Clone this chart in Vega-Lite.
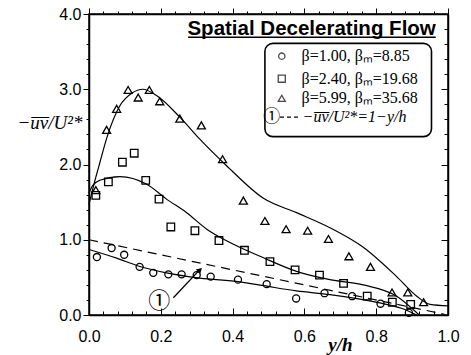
{
  "$schema": "https://vega.github.io/schema/vega-lite/v6.json",
  "width": 359,
  "height": 301,
  "autosize": {"type": "none"},
  "padding": {"left": 89, "top": 14, "right": 23, "bottom": 40},
  "background": "white",
  "config": {
    "view": {"stroke": "black", "strokeWidth": 1.5},
    "axis": {"grid": false, "domainColor": "black", "domainWidth": 1.5, "tickColor": "black", "tickWidth": 1, "labelColor": "black", "titleColor": "black", "labelFlush": false}
  },
  "datasets": {
    "points": [
      {"x": 0.022, "y": 0.77, "s": "b1"}, {"x": 0.063, "y": 0.89, "s": "b1"}, {"x": 0.098, "y": 0.80, "s": "b1"},
      {"x": 0.141, "y": 0.64, "s": "b1"}, {"x": 0.179, "y": 0.56, "s": "b1"}, {"x": 0.221, "y": 0.54, "s": "b1"},
      {"x": 0.258, "y": 0.54, "s": "b1"}, {"x": 0.300, "y": 0.53, "s": "b1"}, {"x": 0.339, "y": 0.51, "s": "b1"},
      {"x": 0.415, "y": 0.47, "s": "b1"}, {"x": 0.495, "y": 0.41, "s": "b1"}, {"x": 0.577, "y": 0.22, "s": "b1"},
      {"x": 0.656, "y": 0.29, "s": "b1"}, {"x": 0.733, "y": 0.25, "s": "b1"}, {"x": 0.812, "y": 0.15, "s": "b1"},
      {"x": 0.891, "y": 0.03, "s": "b1"},
      {"x": 0.019, "y": 1.59, "s": "b2"}, {"x": 0.054, "y": 1.77, "s": "b2"}, {"x": 0.093, "y": 2.03, "s": "b2"},
      {"x": 0.126, "y": 2.15, "s": "b2"}, {"x": 0.158, "y": 1.79, "s": "b2"}, {"x": 0.195, "y": 1.54, "s": "b2"},
      {"x": 0.228, "y": 1.17, "s": "b2"}, {"x": 0.295, "y": 1.12, "s": "b2"}, {"x": 0.362, "y": 0.99, "s": "b2"},
      {"x": 0.433, "y": 0.86, "s": "b2"}, {"x": 0.504, "y": 0.71, "s": "b2"}, {"x": 0.574, "y": 0.60, "s": "b2"},
      {"x": 0.642, "y": 0.53, "s": "b2"}, {"x": 0.709, "y": 0.42, "s": "b2"}, {"x": 0.775, "y": 0.25, "s": "b2"},
      {"x": 0.845, "y": 0.17, "s": "b2"}, {"x": 0.896, "y": 0.14, "s": "b2"},
      {"x": 0.019, "y": 1.66, "s": "b3"}, {"x": 0.049, "y": 2.46, "s": "b3"}, {"x": 0.077, "y": 2.74, "s": "b3"},
      {"x": 0.109, "y": 2.99, "s": "b3"}, {"x": 0.137, "y": 2.89, "s": "b3"}, {"x": 0.168, "y": 2.99, "s": "b3"},
      {"x": 0.197, "y": 2.84, "s": "b3"}, {"x": 0.253, "y": 2.61, "s": "b3"}, {"x": 0.313, "y": 2.52, "s": "b3"},
      {"x": 0.372, "y": 2.07, "s": "b3"}, {"x": 0.430, "y": 1.52, "s": "b3"}, {"x": 0.490, "y": 1.25, "s": "b3"},
      {"x": 0.549, "y": 1.14, "s": "b3"}, {"x": 0.609, "y": 1.12, "s": "b3"}, {"x": 0.667, "y": 1.01, "s": "b3"},
      {"x": 0.724, "y": 0.78, "s": "b3"}, {"x": 0.784, "y": 0.64, "s": "b3"}, {"x": 0.844, "y": 0.30, "s": "b3"},
      {"x": 0.888, "y": 0.30, "s": "b3"}, {"x": 0.932, "y": 0.17, "s": "b3"}
    ],
    "curves": [
      {"x": 0.0, "y": 0.87, "s": "b1"}, {"x": 0.077, "y": 0.755, "s": "b1"}, {"x": 0.142, "y": 0.645, "s": "b1"},
      {"x": 0.216, "y": 0.56, "s": "b1"}, {"x": 0.309, "y": 0.49, "s": "b1"}, {"x": 0.42, "y": 0.44, "s": "b1"},
      {"x": 0.486, "y": 0.39, "s": "b1"}, {"x": 0.578, "y": 0.32, "s": "b1"}, {"x": 0.671, "y": 0.27, "s": "b1"},
      {"x": 0.81, "y": 0.16, "s": "b1"}, {"x": 0.87, "y": 0.09, "s": "b1"}, {"x": 0.913, "y": 0.0, "s": "b1"},
      {"x": 0.0, "y": 1.62, "s": "b2"}, {"x": 0.01, "y": 1.72, "s": "b2"}, {"x": 0.03, "y": 1.79, "s": "b2"},
      {"x": 0.086, "y": 1.84, "s": "b2"}, {"x": 0.16, "y": 1.74, "s": "b2"}, {"x": 0.216, "y": 1.54, "s": "b2"},
      {"x": 0.272, "y": 1.36, "s": "b2"}, {"x": 0.328, "y": 1.14, "s": "b2"}, {"x": 0.39, "y": 0.97, "s": "b2"},
      {"x": 0.486, "y": 0.76, "s": "b2"}, {"x": 0.578, "y": 0.58, "s": "b2"}, {"x": 0.671, "y": 0.47, "s": "b2"},
      {"x": 0.764, "y": 0.40, "s": "b2"}, {"x": 0.857, "y": 0.25, "s": "b2"}, {"x": 0.92, "y": 0.0, "s": "b2"},
      {"x": 0.0, "y": 1.47, "s": "b3"}, {"x": 0.015, "y": 1.76, "s": "b3"}, {"x": 0.03, "y": 2.02, "s": "b3"},
      {"x": 0.05, "y": 2.36, "s": "b3"}, {"x": 0.086, "y": 2.78, "s": "b3"}, {"x": 0.12, "y": 2.95, "s": "b3"},
      {"x": 0.15, "y": 3.0, "s": "b3"}, {"x": 0.19, "y": 2.91, "s": "b3"}, {"x": 0.253, "y": 2.63, "s": "b3"},
      {"x": 0.31, "y": 2.33, "s": "b3"}, {"x": 0.384, "y": 1.98, "s": "b3"}, {"x": 0.486, "y": 1.55, "s": "b3"},
      {"x": 0.578, "y": 1.36, "s": "b3"}, {"x": 0.671, "y": 1.16, "s": "b3"}, {"x": 0.764, "y": 0.90, "s": "b3"},
      {"x": 0.857, "y": 0.51, "s": "b3"}, {"x": 0.913, "y": 0.25, "s": "b3"}, {"x": 0.95, "y": 0.14, "s": "b3"},
      {"x": 1.0, "y": 0.12, "s": "b3"}
    ],
    "ref": [{"x": 0.0, "y": 1.0}, {"x": 0.99, "y": 0.01}],
    "one": [{}]
  },
  "resolve": {"axis": {"x": "independent", "y": "independent"}},
  "layer": [
    {
      "data": {"name": "curves"},
      "mark": {"type": "line", "color": "black", "strokeWidth": 1.2, "interpolate": "monotone"},
      "encoding": {
        "x": {"field": "x", "type": "quantitative", "scale": {"domain": [0, 1], "nice": false},
          "axis": {"orient": "bottom", "labelOverlap": false,
            "values": [0,0.04,0.08,0.12,0.16,0.2,0.24,0.28,0.32,0.36,0.4,0.44,0.48,0.52,0.56,0.6,0.64,0.68,0.72,0.76,0.8,0.84,0.88,0.92,0.96,1],
            "labelExpr": "abs(datum.value*5 - round(datum.value*5)) < 0.001 ? format(datum.value, '.1f') : ''",
            "tickSize": {"condition": {"test": "abs(datum.value*5 - round(datum.value*5)) < 0.001", "value": -7}, "value": -4},
            "labelFont": "Liberation Sans", "labelFontSize": 16, "labelPadding": 20,
            "title": "y/h", "titleFont": "Liberation Serif", "titleFontStyle": "italic", "titleFontWeight": "bold", "titleFontSize": 19,
            "titleX": 251, "titleY": 35, "titleAlign": "center", "titleBaseline": "alphabetic"}},
        "y": {"field": "y", "type": "quantitative", "scale": {"domain": [0, 4], "nice": false},
          "axis": {"orient": "left", "labelOverlap": false,
            "values": [0,0.2,0.4,0.6,0.8,1,1.2,1.4,1.6,1.8,2,2.2,2.4,2.6,2.8,3,3.2,3.4,3.6,3.8,4],
            "labelExpr": "abs(datum.value - round(datum.value)) < 0.001 ? format(datum.value, '.1f') : ''",
            "tickSize": {"condition": {"test": "abs(datum.value - round(datum.value)) < 0.001", "value": 6}, "value": 3},
            "labelFont": "Liberation Sans", "labelFontSize": 16, "labelPadding": 2,
            "title": "−u̅v̅/U²*", "titleFont": "Liberation Serif", "titleFontStyle": "italic", "titleFontWeight": "normal", "titleFontSize": 19,
            "titleAngle": 0, "titleX": -7, "titleY": 108, "titleAlign": "right", "titleBaseline": "middle"}},
        "detail": {"field": "s"}
      }
    },
    {
      "data": {"name": "ref"},
      "mark": {"type": "line", "color": "black", "strokeWidth": 1.2, "strokeDash": [9, 6]},
      "encoding": {
        "x": {"field": "x", "type": "quantitative",
          "axis": {"orient": "top", "title": null, "labels": false,
            "values": [0,0.04,0.08,0.12,0.16,0.2,0.24,0.28,0.32,0.36,0.4,0.44,0.48,0.52,0.56,0.6,0.64,0.68,0.72,0.76,0.8,0.84,0.88,0.92,0.96,1],
            "tickSize": {"condition": {"test": "abs(datum.value*5 - round(datum.value*5)) < 0.001", "value": 6}, "value": 3}}},
        "y": {"field": "y", "type": "quantitative",
          "axis": {"orient": "right", "title": null, "labels": false,
            "values": [0,0.2,0.4,0.6,0.8,1,1.2,1.4,1.6,1.8,2,2.2,2.4,2.6,2.8,3,3.2,3.4,3.6,3.8,4],
            "tickSize": {"condition": {"test": "abs(datum.value - round(datum.value)) < 0.001", "value": -7}, "value": -4}}}
      }
    },
    {
      "data": {"name": "points"},
      "mark": {"type": "point", "filled": false, "color": "black", "strokeWidth": 1.3, "opacity": 1},
      "encoding": {
        "x": {"field": "x", "type": "quantitative", "axis": null},
        "y": {"field": "y", "type": "quantitative", "axis": null},
        "shape": {"field": "s", "type": "nominal", "scale": {"domain": ["b1", "b2", "b3"], "range": ["circle", "square", "triangle-up"]}, "legend": null},
        "size": {"field": "s", "type": "nominal", "scale": {"domain": ["b1", "b2", "b3"], "range": [50, 64, 80]}, "legend": null}
      }
    },
    {
      "data": {"name": "one"},
      "mark": {"type": "text", "text": "Spatial Decelerating Flow", "font": "Liberation Sans", "fontWeight": "bold", "fontSize": 20.5, "align": "right", "baseline": "alphabetic", "color": "black"},
      "encoding": {"x": {"datum": 0.966, "type": "quantitative", "axis": null}, "y": {"datum": 3.725, "type": "quantitative", "axis": null}}
    },
    {
      "data": {"name": "one"},
      "mark": {"type": "rule", "color": "black", "strokeWidth": 1.5},
      "encoding": {"x": {"datum": 0.276, "type": "quantitative", "axis": null}, "x2": {"datum": 0.966}, "y": {"datum": 3.69, "type": "quantitative", "axis": null}}
    },
    {
      "data": {"name": "one"},
      "mark": {"type": "rect", "fill": "white", "stroke": "black", "strokeWidth": 1.6, "cornerRadius": 8},
      "encoding": {"x": {"datum": 0.49, "type": "quantitative", "axis": null}, "x2": {"datum": 0.954}, "y": {"datum": 3.61, "type": "quantitative", "axis": null}, "y2": {"datum": 2.37}}
    },
    {
      "data": {"name": "one"},
      "mark": {"type": "point", "shape": "circle", "filled": false, "color": "black", "strokeWidth": 1.3, "size": 40},
      "encoding": {"x": {"datum": 0.537, "type": "quantitative", "axis": null}, "y": {"datum": 3.44, "type": "quantitative", "axis": null}}
    },
    {
      "data": {"name": "one"},
      "mark": {"type": "point", "shape": "square", "filled": false, "color": "black", "strokeWidth": 1.3, "size": 50},
      "encoding": {"x": {"datum": 0.537, "type": "quantitative", "axis": null}, "y": {"datum": 3.14, "type": "quantitative", "axis": null}}
    },
    {
      "data": {"name": "one"},
      "mark": {"type": "point", "shape": "triangle-up", "filled": false, "color": "black", "strokeWidth": 1.3, "size": 50},
      "encoding": {"x": {"datum": 0.537, "type": "quantitative", "axis": null}, "y": {"datum": 2.88, "type": "quantitative", "axis": null}}
    },
    {
      "data": {"name": "one"},
      "mark": {"type": "text", "text": "β=1.00, βₘ=8.85", "font": "Liberation Serif", "fontSize": 16, "align": "left", "baseline": "middle", "color": "black"},
      "encoding": {"x": {"datum": 0.592, "type": "quantitative", "axis": null}, "y": {"datum": 3.44, "type": "quantitative", "axis": null}}
    },
    {
      "data": {"name": "one"},
      "mark": {"type": "text", "text": "β=2.40, βₘ=19.68", "font": "Liberation Serif", "fontSize": 16, "align": "left", "baseline": "middle", "color": "black"},
      "encoding": {"x": {"datum": 0.592, "type": "quantitative", "axis": null}, "y": {"datum": 3.14, "type": "quantitative", "axis": null}}
    },
    {
      "data": {"name": "one"},
      "mark": {"type": "text", "text": "β=5.99, βₘ=35.68", "font": "Liberation Serif", "fontSize": 16, "align": "left", "baseline": "middle", "color": "black"},
      "encoding": {"x": {"datum": 0.592, "type": "quantitative", "axis": null}, "y": {"datum": 2.88, "type": "quantitative", "axis": null}}
    },
    {
      "data": {"name": "one"},
      "mark": {"type": "text", "text": "①", "font": "Noto Sans CJK JP", "fontSize": 17, "align": "center", "baseline": "middle", "color": "black"},
      "encoding": {"x": {"datum": 0.509, "type": "quantitative", "axis": null}, "y": {"datum": 2.63, "type": "quantitative", "axis": null}}
    },
    {
      "data": {"name": "one"},
      "mark": {"type": "rule", "color": "black", "strokeWidth": 1.2, "strokeDash": [4, 3]},
      "encoding": {"x": {"datum": 0.532, "type": "quantitative", "axis": null}, "x2": {"datum": 0.582}, "y": {"datum": 2.63, "type": "quantitative", "axis": null}}
    },
    {
      "data": {"name": "one"},
      "mark": {"type": "text", "text": "−u̅v̅/U²*=1−y/h", "font": "Liberation Serif", "fontStyle": "italic", "fontSize": 16, "align": "left", "baseline": "middle", "color": "black"},
      "encoding": {"x": {"datum": 0.595, "type": "quantitative", "axis": null}, "y": {"datum": 2.63, "type": "quantitative", "axis": null}}
    },
    {
      "data": {"name": "one"},
      "mark": {"type": "rule", "color": "black", "strokeWidth": 1.3},
      "encoding": {"x": {"datum": 0.235, "type": "quantitative", "axis": null}, "x2": {"datum": 0.308}, "y": {"datum": 0.23, "type": "quantitative", "axis": null}, "y2": {"datum": 0.60}}
    },
    {
      "data": {"name": "one"},
      "mark": {"type": "point", "shape": "triangle-up", "filled": true, "color": "black", "size": 40, "angle": 45, "opacity": 1},
      "encoding": {"x": {"datum": 0.309, "type": "quantitative", "axis": null}, "y": {"datum": 0.60, "type": "quantitative", "axis": null}}
    },
    {
      "data": {"name": "one"},
      "mark": {"type": "text", "text": "①", "font": "Noto Sans CJK JP", "fontSize": 22, "align": "center", "baseline": "middle", "color": "black"},
      "encoding": {"x": {"datum": 0.196, "type": "quantitative", "axis": null}, "y": {"datum": 0.18, "type": "quantitative", "axis": null}}
    }
  ]
}
